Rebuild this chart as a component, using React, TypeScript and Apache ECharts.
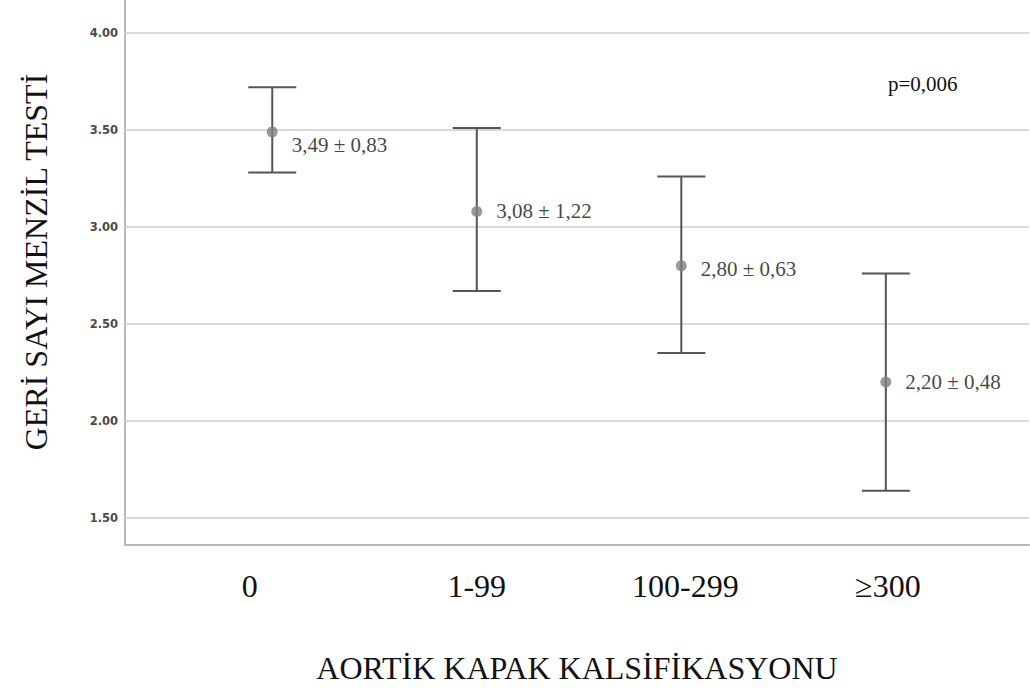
import React, { useEffect, useRef } from "react";
import * as echarts from "echarts";

const categories = ["0", "1-99", "100-299", "≥300"];
const catPos = [1, 2, 3, 4];
const labelPos = [0.89, 2.0, 3.02, 4.01];
const means = [3.49, 3.08, 2.8, 2.2];
const sds = [0.83, 1.22, 0.63, 0.48];
const upper = [3.72, 3.51, 3.26, 2.76];
const lower = [3.28, 2.67, 2.35, 1.64];
const yTicks = [1.5, 2.0, 2.5, 3.0, 3.5, 4.0];
const labelDy = [13, 0, 3, 0];
const pText = "p=0,006";
const xTitle = "AORTİK KAPAK KALSİFİKASYONU";
const yTitle = "GERİ SAYI MENZİL TESTİ";

const fmt = (v: number) => v.toFixed(2).replace(".", ",");
const SERIF = "'Liberation Serif', 'Times New Roman', serif";

export default function App() {
  const ref = useRef<HTMLDivElement>(null);
  useEffect(() => {
    if (!ref.current) return;
    const chart = echarts.init(ref.current, null, { renderer: "svg" });
    const option: any = {
      animation: false,
      backgroundColor: "#ffffff",
      grid: { left: 125, right: 1, top: 0, bottom: 145, containLabel: false },
      xAxis: {
        type: "value",
        min: 0.28,
        max: 4.7,
        axisLine: { show: true, lineStyle: { color: "#b8b8b8", width: 2 } },
        axisTick: { show: false },
        splitLine: { show: false },
        axisLabel: {
          customValues: labelPos,
          formatter: (v: number) => {
            const i = labelPos.indexOf(v);
            return i >= 0 ? categories[i] : "";
          },
          fontFamily: SERIF,
          fontSize: 32,
          color: "#111",
          margin: 25,
        },
        name: xTitle,
        nameLocation: "middle",
        nameGap: 107,
        nameTextStyle: { fontFamily: SERIF, fontSize: 32, color: "#111" },
      },
      yAxis: {
        type: "value",
        min: 1.36,
        max: 4.17,
        axisLine: { show: true, lineStyle: { color: "#b8b8b8", width: 2 } },
        axisTick: { show: false },
        splitLine: { show: false },
        axisLabel: {
          customValues: yTicks,
          formatter: (v: number) => v.toFixed(2),
          fontFamily: "'DejaVu Sans', sans-serif",
          fontWeight: "bold",
          fontSize: 11.5,
          color: "#4a4a4a",
          margin: 7,
        },
      },
      series: [
        {
          type: "line",
          data: [],
          silent: true,
          z: 0,
          markLine: {
            silent: true,
            symbol: "none",
            label: { show: false },
            lineStyle: { color: "#d9d9d9", width: 2, type: "solid" },
            data: yTicks.map((t) => ({ yAxis: t })),
          },
        },
        {
          type: "custom",
          silent: true,
          data: catPos.map((x, i) => [x, lower[i], upper[i]]),
          renderItem: (params: any, api: any) => {
            const x = api.value(0);
            const lo = api.coord([x, api.value(1)]);
            const hi = api.coord([x, api.value(2)]);
            const hw = 24;
            const style = { stroke: "#555", lineWidth: 2 };
            return {
              type: "group",
              children: [
                { type: "line", shape: { x1: lo[0], y1: lo[1], x2: hi[0], y2: hi[1] }, style },
                { type: "line", shape: { x1: hi[0] - hw, y1: hi[1], x2: hi[0] + hw, y2: hi[1] }, style },
                { type: "line", shape: { x1: lo[0] - hw, y1: lo[1], x2: lo[0] + hw, y2: lo[1] }, style },
              ],
            };
          },
          z: 5,
        },
        {
          type: "scatter",
          symbol: "circle",
          symbolSize: 11,
          itemStyle: { color: "#808080" },
          z: 10,
          data: catPos.map((x, i) => ({
            value: [x, means[i]],
            label: {
              show: true,
              position: "right",
              distance: 14,
              offset: [0, labelDy[i]],
              formatter: `${fmt(means[i])} ± ${fmt(sds[i])}`,
              fontFamily: SERIF,
              fontSize: 21,
              color: "#111",
              textBorderWidth: 0,
            },
          })),
        },
      ],
      graphic: [
        {
          type: "text",
          left: 888,
          top: 73,
          style: { text: pText, fontFamily: SERIF, fontSize: 21, fill: "#111" },
        },
        {
          type: "text",
          x: 36,
          y: 262,
          rotation: Math.PI / 2,
          style: {
            text: yTitle,
            fontFamily: SERIF,
            fontSize: 32,
            fill: "#111",
            textAlign: "center",
            textVerticalAlign: "middle",
          },
        },
      ],
    };
    chart.setOption(option);
    return () => chart.dispose();
  }, []);
  return (
    <div
      ref={ref}
      style={{ position: "absolute", left: 0, top: 0, width: 1030, height: 690 }}
    />
  );
}
